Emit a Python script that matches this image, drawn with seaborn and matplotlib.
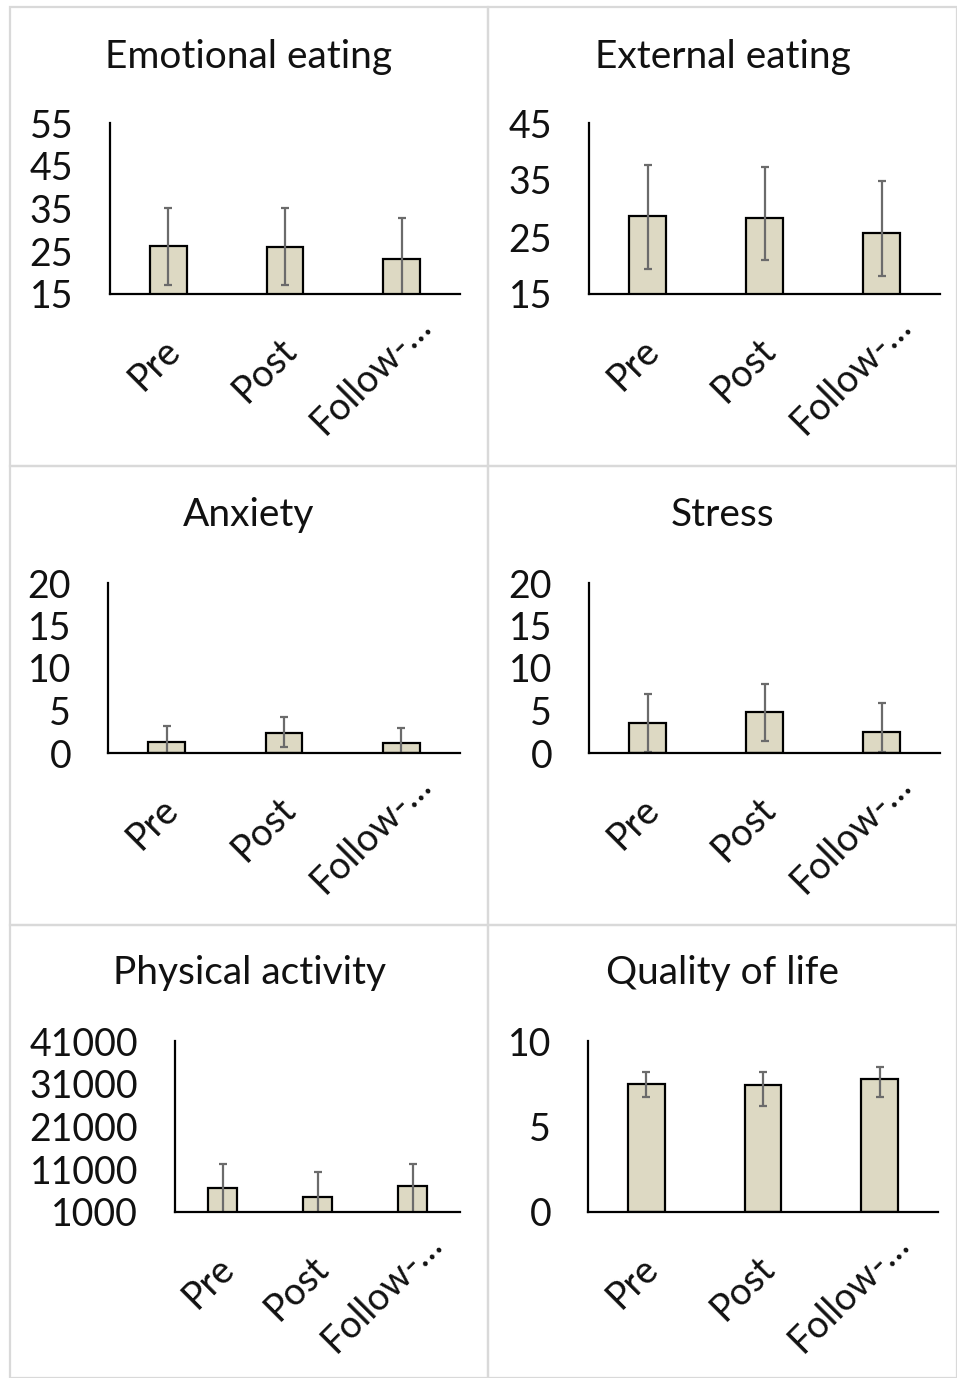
import matplotlib
matplotlib.use("Agg")
import matplotlib.pyplot as plt
import matplotlib.transforms as mtransforms
from matplotlib.patches import Rectangle
import numpy as np
import pandas as pd
import seaborn as sns

# ---- data ----
PHASES = ["Pre", "Post", "Follow-\u2026"]
TITLES = ["Emotional eating", "External eating", "Anxiety", "Stress",
          "Physical activity", "Quality of life"]

emotional_mean = [26.2, 26.0, 23.2]
emotional_lo = [17.0, 17.0, 13.7]
emotional_hi = [35.2, 35.2, 32.7]

external_mean = [28.6, 28.3, 25.7]
external_lo = [19.4, 21.0, 18.1]
external_hi = [37.6, 37.2, 34.8]

anxiety_mean = [1.33, 2.39, 1.17]
anxiety_lo = [-0.5, 0.70, -0.6]
anxiety_hi = [3.2, 4.2, 3.0]

stress_mean = [3.56, 4.77, 2.5]
stress_lo = [0.12, 1.45, 0.12]
stress_hi = [6.9, 8.1, 5.85]

activity_mean = [6670, 4570, 7060]
activity_lo = [500, -1000, 600]
activity_hi = [12340, 10240, 12340]

qol_mean = [7.46, 7.40, 7.77]
qol_lo = [6.70, 6.17, 6.70]
qol_hi = [8.16, 8.16, 8.47]

MEANS = [emotional_mean, external_mean, anxiety_mean, stress_mean, activity_mean, qol_mean]
LOWS = [emotional_lo, external_lo, anxiety_lo, stress_lo, activity_lo, qol_lo]
HIGHS = [emotional_hi, external_hi, anxiety_hi, stress_hi, activity_hi, qol_hi]
YTICKS = [[15, 25, 35, 45, 55], [15, 25, 35, 45], [0, 5, 10, 15, 20], [0, 5, 10, 15, 20],
          [1000, 11000, 21000, 31000, 41000], [0, 5, 10]]

# ---- layout in pixels ----
W, H = 957, 1378
AX_PX = [(110, 460, 123, 294), (589, 940, 123, 294),
         (108, 460, 583, 753), (589, 940, 583, 753),
         (175, 460, 1041, 1212), (588, 938, 1041, 1212)]
FRAMES = [(10, 488, 7, 466), (488, 957, 7, 466),
          (10, 488, 466, 925), (488, 957, 466, 925),
          (10, 488, 925, 1378), (488, 957, 925, 1378)]
TITLE_Y = [57, 57, 515, 515, 973, 973]
# extra shift (inches, x right / y up) per x label; the truncated one sits higher
LABEL_SHIFT = [(-0.07, 0.0), (-0.07, 0.0), (0.11, 0.24)]

sns.set_style("white")
plt.rcParams["font.family"] = ["Lato", "DejaVu Sans"]

BAR_COLOR = "#ddd9c3"
ERR_COLOR = "#6b6b6b"
TXT = "#111111"

fig = plt.figure(figsize=(W / 100, H / 100), dpi=100)

for i in range(6):
    x0, x1, y0, y1 = FRAMES[i]
    fig.patches.append(Rectangle((x0 / W, 1 - y1 / H), (x1 - x0) / W, (y1 - y0) / H,
                                 transform=fig.transFigure, fill=False,
                                 edgecolor="#d9d9d9", lw=1.6, zorder=0))
    fig.text((x0 + x1) / 2 / W, 1 - TITLE_Y[i] / H, TITLES[i], ha="center", va="center",
             fontsize=28, color=TXT)

    l, r, t, b = AX_PX[i]
    ax = fig.add_axes([l / W, 1 - b / H, (r - l) / W, (b - t) / H])
    df = pd.DataFrame({"phase": PHASES, "value": MEANS[i]})
    sns.barplot(data=df, x="phase", y="value", color=BAR_COLOR, width=0.313,
                edgecolor="black", linewidth=1.6, saturation=1, ax=ax, zorder=2)
    mean = np.array(MEANS[i])
    yerr = [mean - np.array(LOWS[i]), np.array(HIGHS[i]) - mean]
    ax.errorbar(np.arange(3), mean, yerr=yerr, fmt="none", ecolor=ERR_COLOR,
                elinewidth=1.6, capsize=3, capthick=1.6, zorder=3)

    yt = YTICKS[i]
    ax.set_ylim(yt[0], yt[-1])
    ax.set_xlim(-0.5, 2.5)
    ax.set_yticks(yt)
    ax.set_xlabel("")
    ax.set_ylabel("")
    for s in ["top", "right"]:
        ax.spines[s].set_visible(False)
    for s in ["left", "bottom"]:
        ax.spines[s].set_color("black")
        ax.spines[s].set_linewidth(1.6)
    ax.spines["bottom"].set_zorder(4)
    ax.tick_params(axis="y", direction="inout", length=19, width=1.6, color="black",
                   labelsize=27, pad=17, labelcolor=TXT)
    ax.tick_params(axis="x", length=0, labelsize=27, pad=27, labelcolor=TXT)
    for lab, (dx, dy) in zip(ax.get_xticklabels(), LABEL_SHIFT):
        lab.set_rotation(45)
        lab.set_ha("right")
        lab.set_va("top")
        lab.set_rotation_mode("anchor")
        offset = mtransforms.ScaledTranslation(dx, dy, fig.dpi_scale_trans)
        lab.set_transform(lab.get_transform() + offset)

fig.savefig("out.png", dpi=100)
